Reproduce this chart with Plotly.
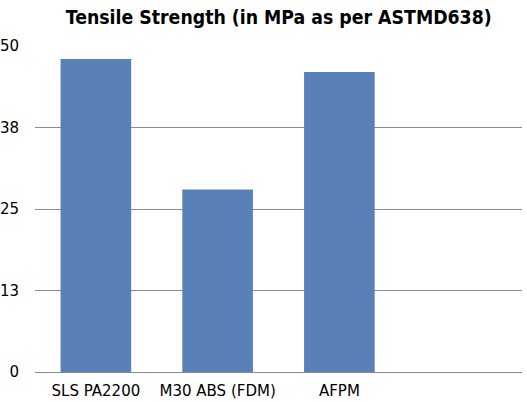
import plotly.graph_objects as go

categories = ["SLS PA2200", "M30 ABS (FDM)", "AFPM"]
values = [48, 28, 46]
tick_vals = [0, 12.5, 25, 37.5, 50]
tick_text = ["0", "13", "25", "38", "50"]

fig = go.Figure(go.Bar(
    x=list(range(len(categories))),
    y=values,
    width=0.58,
    marker=dict(color="#5a80b8", line=dict(width=0)),
))

fig.update_layout(
    width=527, height=402,
    margin=dict(l=35, r=5, t=46, b=30),
    paper_bgcolor="white", plot_bgcolor="white",
    font=dict(family="DejaVu Sans", size=15, color="black"),
    title=dict(text="<b>Tensile Strength (in MPa as per ASTMD638)</b>",
               x=0.529, xanchor="center", y=0.958, yanchor="middle",
               font=dict(family="DejaVu Sans Condensed", size=19.3, color="black")),
    showlegend=False,
)
fig.update_xaxes(
    range=[-0.5, 3.5],
    tickvals=list(range(len(categories))), ticktext=categories,
    showgrid=False, zeroline=False, showline=False, ticks="",
    automargin=False, ticklabelstandoff=8,
)
fig.update_yaxes(
    range=[0, 50], tickvals=tick_vals, ticktext=tick_text,
    showgrid=True, gridcolor="#8c8c8c", gridwidth=1,
    zeroline=True, zerolinecolor="#8c8c8c", zerolinewidth=1,
    showline=False, ticks="", ticklabelstandoff=15,
    automargin=False,
)

fig.write_html("out.html", config={"displayModeBar": False},
               post_script="document.body.style.margin='0';")
